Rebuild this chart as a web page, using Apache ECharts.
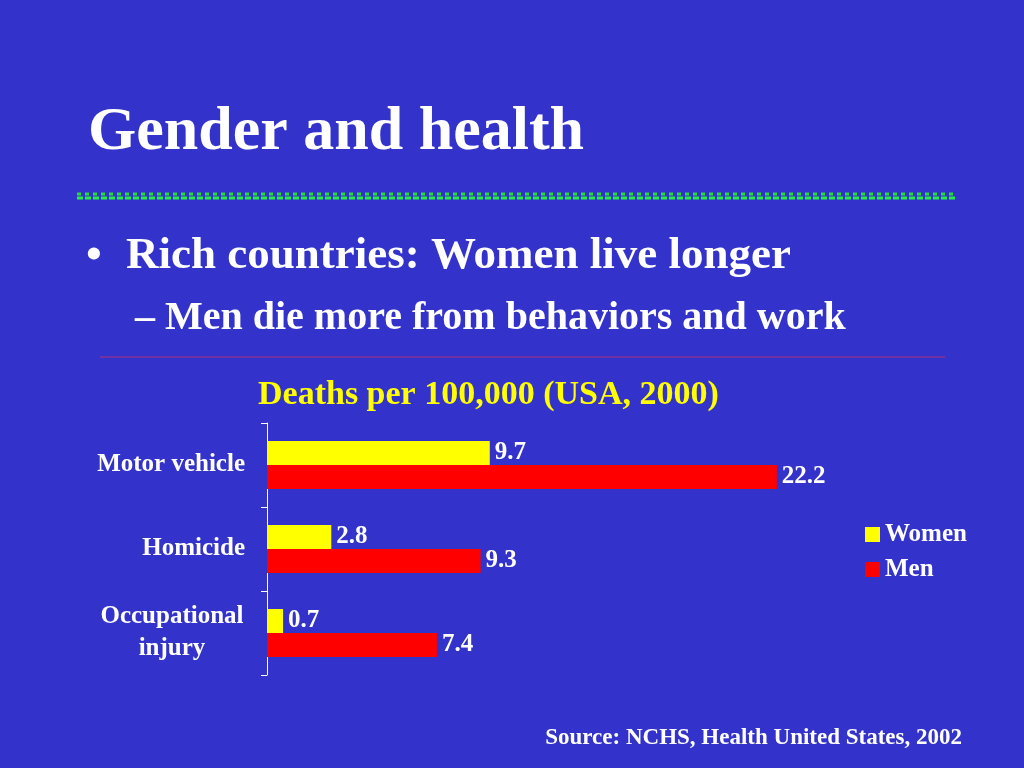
<!DOCTYPE html>
<html><head><meta charset="utf-8">
<script src="https://cdn.jsdelivr.net/npm/echarts@6/dist/echarts.min.js"></script>
<style>html,body{margin:0;padding:0;background:#3333cc}#c{width:1024px;height:768px}</style>
</head><body><div id="c"></div>
<script>
const categories = ['Motor vehicle', 'Homicide', 'Occupational injury'];
const women = [9.7, 2.8, 0.7];
const men = [22.2, 9.3, 7.4];
const seriesNames = ['Women', 'Men'];

const FONT = '"Liberation Serif", "Times New Roman", serif';
const chart = echarts.init(document.getElementById('c'));

function dotRow(y, color, dash, w) {
  return { type: 'line', shape: { x1: 77, y1: y, x2: 955, y2: y },
    style: { stroke: color, lineWidth: w, lineDash: dash } };
}

const labelStyle = { color: '#fff', fontSize: 25, fontWeight: 'bold', fontFamily: FONT };

chart.setOption({
  backgroundColor: '#3333cc',
  animation: false,
  textStyle: { fontFamily: FONT },
  graphic: [
    { type: 'text', left: 88, top: 102, style: { text: 'Gender and health', fill: '#fff', font: 'bold 62px ' + FONT } },
    dotRow(194, '#22dd33', [4, 4], 3),
    dotRow(198, '#22ee44', [6, 2], 3),
    { type: 'text', left: 86, top: 234, style: { text: '•', fill: '#fff', font: 'bold 45px ' + FONT } },
    { type: 'text', left: 126, top: 234, style: { text: 'Rich countries: Women live longer', fill: '#fff', font: 'bold 45px ' + FONT } },
    { type: 'text', left: 135, top: 299, style: { text: '– Men die more from behaviors and work', fill: '#fff', font: 'bold 40px ' + FONT } },
    { type: 'line', shape: { x1: 100, y1: 357, x2: 945, y2: 357 }, style: { stroke: '#b0307a', lineWidth: 1 } },
    { type: 'text', left: 258, top: 378, style: { text: 'Deaths per 100,000 (USA, 2000)', fill: '#ffff00', font: 'bold 34px ' + FONT } },
    { type: 'text', right: 62, top: 727, style: { text: 'Source: NCHS, Health United States, 2002', fill: '#fff', font: 'bold 23px ' + FONT } }
  ],
  legend: {
    data: seriesNames, orient: 'vertical', left: 860, top: 517, itemWidth: 15, itemHeight: 15, itemGap: 10,
    icon: 'rect',
    textStyle: { color: '#fff', fontSize: 25, fontWeight: 'bold', fontFamily: FONT }
  },
  grid: { left: 267, top: 423, width: 689, height: 252 },
  xAxis: { type: 'value', min: 0, max: 30, show: false },
  yAxis: {
    type: 'category', data: categories, inverse: true,
    axisLine: { show: true, lineStyle: { color: '#ffffff', width: 1 } },
    axisTick: { show: true, inside: false, lineStyle: { color: '#ffffff', width: 1 }, length: 6 },
    axisLabel: Object.assign({}, labelStyle, {
      margin: 22,
      formatter: v => v === 'Occupational injury' ? '{c|Occupational}\n{c|injury}' : v,
      lineHeight: 32,
      rich: { c: Object.assign({ width: 146, align: 'center', lineHeight: 32 }, labelStyle) }
    })
  },
  series: [
    { name: seriesNames[0], type: 'bar', data: women, barWidth: 24, barGap: '0%',
      itemStyle: { color: '#ffff00' },
      label: Object.assign({ show: true, position: 'right', distance: 5 }, labelStyle) },
    { name: seriesNames[1], type: 'bar', data: men, barWidth: 24, barGap: '0%',
      itemStyle: { color: '#ff0000' },
      label: Object.assign({ show: true, position: 'right', distance: 5 }, labelStyle) }
  ]
});
</script></body></html>
